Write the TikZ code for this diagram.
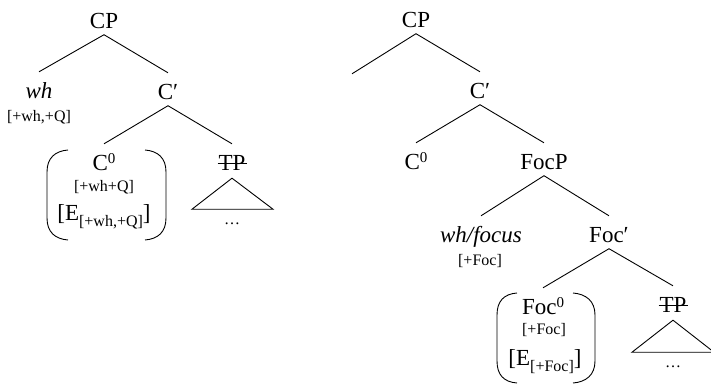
\documentclass[tikz,border=0pt]{standalone}
\usepackage{fontspec}
\setmainfont{Liberation Serif}
\newcommand{\bigf}{\fontsize{23}{23}\selectfont}
\newcommand{\smf}{\fontsize{16}{16}\selectfont}
\newcommand{\zerosup}{\raisebox{6.5pt}{\fontsize{15}{15}\selectfont 0}}
\begin{document}
\begin{tikzpicture}[x=1pt,y=-1pt,
  lab/.style={inner sep=0pt, text height=26pt, text depth=6.5pt, anchor=base, font=\bigf},
  feat/.style={inner sep=0pt, font=\smf},
  eline/.style={inner sep=0pt, anchor=base, font=\bigf},
  branch/.style={line width=0.9pt},
  paren/.style={line width=0.9pt},
  strike/.style={line width=0.9pt}]
\useasboundingbox (0,0) rectangle (711,383);

% ---------------- left tree ----------------
\node[lab] (cpL) at (104,28) {CP};
\node[lab] (whL) at (39,98) {\itshape wh};
\node[feat] (whfL) at (39,117) {[+wh,+Q]};
\node[lab] (cbL) at (168,99) {C′};
\node[lab] (c0L) at (104,170) {C\zerosup};
\node[feat] (c0fL) at (104,187) {[+wh+Q]};
\node[eline] (eL) at (104,220) {[E\raisebox{-6pt}{\smf [+wh,+Q]}]};
\node[lab] (tpL) at (232,170) {TP};
\node[feat] (dotsL) at (232,224) {…};

\draw[branch] (cpL.south) -- (whL.north);
\draw[branch] (cpL.south) -- (cbL.north);
\draw[branch] (cbL.south) -- (c0L.north);
\draw[branch] (cbL.south) -- (tpL.north);
\draw[strike] ([xshift=-14.5pt,yshift=7pt]tpL.base) -- ([xshift=14.5pt,yshift=7pt]tpL.base);
\draw[branch] ([yshift=-1.5pt]tpL.south) -- ++(-40,31) -- ++(81,0) -- cycle;

\draw[paren] (68,150) .. controls (55,151) and (47,158) .. (47,172) -- (47,218)
  .. controls (47,232) and (55,239) .. (68,240);
\draw[paren] (145,150) .. controls (158,151) and (166,158) .. (166,172) -- (166,218)
  .. controls (166,232) and (158,239) .. (145,240);

% ---------------- right tree ----------------
\node[lab] (cpR) at (416,27) {CP};
\node[lab] (specR) at (352,100) {};
\node[lab] (cbR) at (480,98) {C′};
\node[lab] (c0R) at (416,169) {C\zerosup};
\node[lab] (focp) at (544,169) {FocP};
\node[lab] (whfoc) at (481,242) {\itshape wh/focus};
\node[feat] (whfocf) at (480,261) {[+Foc]};
\node[lab] (focb) at (609,242) {Foc′};
\node[lab] (foc0) at (543,314) {Foc\zerosup};
\node[feat] (foc0f) at (544,330) {[+Foc]};
\node[eline] (eR) at (545,365) {[E\raisebox{-6pt}{\smf [+Foc]}]};
\node[lab] (tpR) at (673,312) {TP};
\node[feat] (dotsR) at (673,367) {…};

\draw[branch] (cpR.south) -- (specR.north);
\draw[branch] (cpR.south) -- (cbR.north);
\draw[branch] (cbR.south) -- (c0R.north);
\draw[branch] (cbR.south) -- (focp.north);
\draw[branch] (focp.south) -- (whfoc.north);
\draw[branch] (focp.south) -- (focb.north);
\draw[branch] (focb.south) -- (foc0.north);
\draw[branch] (focb.south) -- (tpR.north);
\draw[strike] ([xshift=-14.5pt,yshift=7pt]tpR.base) -- ([xshift=14.5pt,yshift=7pt]tpR.base);
\draw[branch] ([yshift=-1.5pt]tpR.south) -- ++(-41,32) -- ++(82,0) -- cycle;

\draw[paren] (517,293) .. controls (504,294) and (497,301) .. (497,315) -- (497,361)
  .. controls (497,375) and (504,382) .. (517,383);
\draw[paren] (573,293) .. controls (586,294) and (595,301) .. (595,315) -- (595,361)
  .. controls (595,375) and (586,382) .. (573,383);
\end{tikzpicture}
\end{document}
